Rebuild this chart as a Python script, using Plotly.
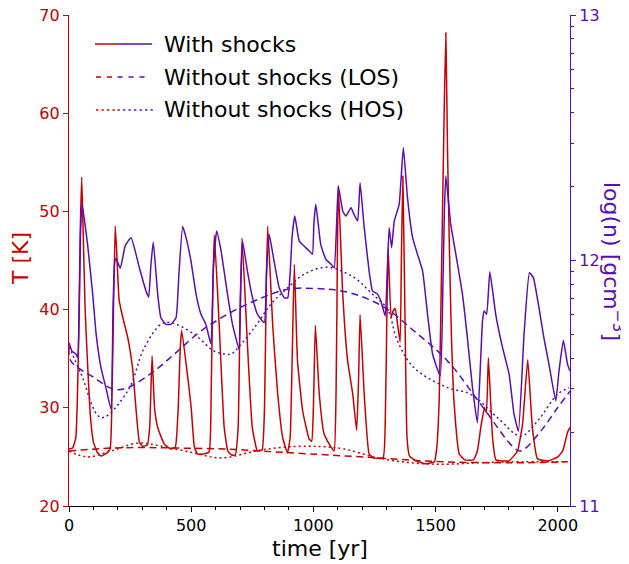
import plotly.graph_objects as go
import math

RED = "#C80000"
PURPLE = "#5A0DB4"
FONT = "DejaVu Sans"

# With shocks: temperature
t_T = [0, 15, 28, 38, 46, 52, 58, 66, 75, 88, 100, 115, 131, 150, 168, 175, 182, 189, 195, 205, 220, 240, 260, 288, 301,
       320, 330, 340, 350, 363, 390, 417, 435, 447, 455, 461, 486, 500, 513, 526, 550, 573, 582, 590, 595, 615, 635, 650,
       665, 680, 692, 700, 708, 730, 750, 771, 790, 800, 807, 813, 834, 854, 874, 894, 905, 914, 922, 935, 956, 983, 993,
       1000, 1008, 1024, 1044, 1072, 1085, 1093, 1098, 1102, 1120, 1140, 1161, 1177, 1185, 1191, 1208, 1228, 1245, 1285,
       1295, 1301, 1306, 1318, 1327, 1335, 1346, 1355, 1360, 1366, 1375, 1383, 1393, 1420, 1460, 1495, 1505, 1515, 1525,
       1535, 1542, 1549, 1563, 1576, 1597, 1620, 1655, 1671, 1685, 1700, 1708, 1716, 1733, 1747, 1800, 1835, 1856, 1877,
       1896, 1917, 1960, 2000, 2020, 2040, 2050]
T_shock = [25.8, 25.9, 27, 35, 48, 53.5, 48, 40, 35, 29, 26.5, 25.5, 25.1, 25.3, 25.8, 30, 40, 48.5, 46, 41, 39.2, 37.2,
           34.1, 26.5, 26.1, 26.2, 28, 35.3, 30, 28, 26.3, 25.8, 26, 30, 36, 37.9, 33.1, 30, 26, 25.3, 25.3, 25.5, 32, 44,
           47.6, 38.2, 28, 25.6, 25.2, 25.2, 28, 40, 47.3, 36.5, 28, 25.6, 25.7, 30, 42, 48.5, 38.2, 31.4, 27, 25.4, 27,
           36, 44.6, 34.8, 29.7, 26.8, 26.6, 30, 38.4, 31.4, 27.3, 26, 25.6, 32, 45, 52.6, 41.6, 34.8, 31.4, 27.7, 33,
           39.5, 31.4, 25.3, 24.9, 24.9, 30, 40, 46.2, 39.2, 39.9, 40.1, 38.2, 36.7, 45, 53.6, 38.9, 27, 25.1, 24.6,
           24.3, 24.5, 26, 31, 45, 60, 68.2, 55.9, 38.9, 30.4, 25.3, 24.7, 24.7, 25.6, 28, 30, 29.5, 35.1, 27, 24.7,
           24.6, 25.6, 28.4, 34.9, 28, 24.8, 24.6, 25, 25.6, 27.5, 28]

# With shocks: log density
t_n = [0, 12, 29, 36, 42, 47, 53, 76, 97, 111, 131, 151, 172, 180, 186, 192, 210, 230, 254, 288, 315, 326, 335, 345,
       363, 376, 397, 417, 438, 450, 465, 479, 499, 520, 540, 560, 581, 590, 604, 622, 649, 669, 696, 703, 710, 730,
       751, 771, 799, 808, 819, 839, 860, 881, 895, 905, 913, 924, 942, 962, 983, 996, 1002, 1010, 1030, 1051, 1072,
       1085, 1095, 1102, 1120, 1133, 1154, 1165, 1181, 1191, 1208, 1228, 1242, 1263, 1276, 1294, 1302, 1310, 1320,
       1331, 1351, 1368, 1385, 1406, 1426, 1447, 1467, 1488, 1519, 1530, 1536, 1542, 1562, 1583, 1610, 1630, 1651,
       1671, 1692, 1699, 1709, 1722, 1746, 1774, 1801, 1821, 1839, 1862, 1884, 1900, 1923, 1943, 1964, 1992, 2005,
       2023, 2040, 2050]
logn_shock = [11.665, 11.631, 11.618, 11.604, 11.8, 12.1, 12.231, 12.066, 11.862, 11.70, 11.563, 11.482, 11.394, 11.8,
              11.98, 12.009, 11.968, 12.06, 12.093, 11.97, 11.876, 11.851, 11.98, 12.075, 11.862, 11.767, 11.740,
              11.740, 11.767, 11.95, 12.138, 12.093, 11.998, 11.862, 11.781, 11.74, 11.659, 11.95, 12.12, 12.04,
              11.86, 11.74, 11.638, 11.9, 12.079, 11.957, 11.848, 11.781, 11.747, 11.95, 12.107, 11.998, 11.889,
              11.848, 11.848, 11.95, 12.1, 12.181, 12.079, 12.059, 12.039, 12.025, 12.15, 12.229, 12.066, 12.005,
              11.985, 11.97, 12.15, 12.303, 12.202, 12.181, 12.215, 12.19, 12.161, 12.317, 12.134, 11.957, 11.876,
              11.862, 11.835, 11.774, 11.95, 12.134, 12.052, 12.161, 12.229, 12.46, 12.256, 12.093, 12.025, 11.957,
              11.781, 11.618, 11.53, 11.9, 12.2, 12.344, 12.147, 12.025, 11.862, 11.686, 11.482, 11.339, 11.754,
              11.794, 11.781, 11.954, 11.781, 11.645, 11.536, 11.374, 11.305, 11.7, 11.95, 11.93, 11.808, 11.686,
              11.577, 11.428, 11.55, 11.675, 11.577, 11.55]

# Without shocks (LOS)
t_los_n = [0, 8, 102, 185, 240, 349, 445, 540, 649, 758, 895, 1030, 1099, 1194, 1303, 1412, 1549, 1685, 1821, 1849,
           1931, 1999, 2050]
logn_los = [11.645, 11.59, 11.523, 11.475, 11.482, 11.55, 11.631, 11.713, 11.781, 11.835, 11.883, 11.885, 11.879,
            11.855, 11.801, 11.713, 11.591, 11.414, 11.237, 11.224, 11.306, 11.40, 11.468]
t_los_T = [0, 170, 310, 445, 650, 785, 990, 1263, 1535, 1808, 2040]
T_los = [25.6, 25.9, 25.95, 25.9, 25.8, 25.6, 25.3, 24.9, 24.5, 24.4, 24.5]

# Without shocks (HOS)
t_hos_n = [0, 50, 131, 240, 308, 376, 417, 512, 594, 649, 663, 758, 826, 895, 962, 1058, 1167, 1235, 1303, 1344,
           1412, 1549, 1644, 1753, 1849, 1917, 1999, 2046]
logn_hos = [11.65, 11.537, 11.36, 11.468, 11.645, 11.74, 11.747, 11.70, 11.631, 11.618, 11.618, 11.726, 11.822,
            11.889, 11.944, 11.973, 11.93, 11.869, 11.801, 11.672, 11.563, 11.482, 11.455, 11.36, 11.285, 11.346,
            11.455, 11.482]
t_hos_T = [0, 76, 172, 281, 376, 512, 622, 785, 921, 1030, 1126, 1263, 1399, 1535, 1672, 1808, 2040]
T_hos = [25.6, 25.0, 25.6, 26.4, 26.1, 25.4, 24.9, 25.7, 26.05, 26.05, 25.8, 24.9, 24.4, 24.25, 24.4, 24.5, 24.5]

x_ticks = [0, 500, 1000, 1500, 2000]
T_ticks = [20, 30, 40, 50, 60, 70]
n_ticks = [11, 12, 13]
n_tick_text = ["11", "12", "13"]
legend_labels = ["With shocks", "Without shocks (LOS)", "Without shocks (HOS)"]

DASH = "7px,4.5px"
DOT = "2px,3px"

fig = go.Figure()
W = 1.5
fig.add_trace(go.Scatter(x=t_T, y=T_shock, mode="lines", line=dict(color=RED, width=W, shape="spline", smoothing=0.4), yaxis="y", showlegend=False))
fig.add_trace(go.Scatter(x=t_n, y=logn_shock, mode="lines", line=dict(color=PURPLE, width=W, shape="spline", smoothing=0.4), yaxis="y2", showlegend=False))
fig.add_trace(go.Scatter(x=t_los_T, y=T_los, mode="lines", line=dict(color=RED, width=W, dash=DASH, shape="spline"), yaxis="y", showlegend=False))
fig.add_trace(go.Scatter(x=t_los_n, y=logn_los, mode="lines", line=dict(color=PURPLE, width=W, dash=DASH, shape="spline"), yaxis="y2", showlegend=False))
fig.add_trace(go.Scatter(x=t_hos_T, y=T_hos, mode="lines", line=dict(color=RED, width=W, dash=DOT, shape="spline"), yaxis="y", showlegend=False))
fig.add_trace(go.Scatter(x=t_hos_n, y=logn_hos, mode="lines", line=dict(color=PURPLE, width=W, dash=DOT, shape="spline"), yaxis="y2", showlegend=False))

# page offset of the figure div (body margin)
OFF = 7
# plot area in page pixels
L, R, TOP, BOT = 68, 569, 14, 505
def px(x):
    return (x - L) / (R - L)
def py(y):
    return (BOT - y) / (BOT - TOP)

shapes = []
annotations = []
# legend handles: (red segment, purple segment) in page pixels
handles = [((94, 116), (116, 151), "solid"),
           ((95, 111), (116.5, 145), "5px,6px"),
           ((95, 114), (116.5, 153), "2.3px,3.2px")]
rows = [43, 76, 109]
for lab, (rseg, pseg, d), yy in zip(legend_labels, handles, rows):
    shapes.append(dict(type="line", xref="paper", yref="paper", x0=px(rseg[0]), x1=px(rseg[1]), y0=py(yy), y1=py(yy),
                       line=dict(color=RED, width=W, dash=d)))
    shapes.append(dict(type="line", xref="paper", yref="paper", x0=px(pseg[0]), x1=px(pseg[1]), y0=py(yy), y1=py(yy),
                       line=dict(color=PURPLE, width=W, dash=d)))
    annotations.append(dict(text=lab, xref="paper", yref="paper", x=px(161), y=py(yy), xanchor="left",
                            yanchor="middle", showarrow=False, font=dict(family=FONT, size=22, color="black")))

annotations.append(dict(text="T [K]", xref="paper", yref="paper", x=px(19), y=py(258), textangle=-90,
                        xanchor="center", yanchor="middle",
                        showarrow=False, font=dict(family=FONT, size=22, color=RED)))
annotations.append(dict(text="log(n) [gcm<sup>−3</sup>]", xref="paper", yref="paper", x=px(612), y=py(260),
                        xanchor="center", yanchor="middle",
                        textangle=90, showarrow=False, font=dict(family=FONT, size=22, color=PURPLE)))
annotations.append(dict(text="time [yr]", xref="paper", yref="paper", x=px(319), y=py(547),
                        xanchor="center", yanchor="middle",
                        showarrow=False, font=dict(family=FONT, size=22, color="black")))

minor_n = [d + math.log10(k) for d in (11, 12) for k in range(2, 10)]

fig.update_layout(
    width=629, height=564, autosize=False,
    margin=dict(l=L - OFF, r=629 + OFF - R, t=TOP - OFF, b=564 + OFF - BOT),
    paper_bgcolor="white", plot_bgcolor="white",
    font=dict(family=FONT),
    showlegend=False,
    shapes=shapes, annotations=annotations,
    xaxis=dict(range=[0, 2050], showgrid=False, zeroline=False, showline=True, linecolor="black", linewidth=1,
               automargin=False, ticklabeloverflow="allow",
               ticks="outside", ticklen=5, tickcolor="black", tickvals=x_ticks,
               tickfont=dict(family=FONT, size=16, color="black"),
               minor=dict(dtick=100, tick0=0, ticks="outside", ticklen=3, tickcolor="black")),
    yaxis=dict(range=[20, 70], showgrid=False, zeroline=False, showline=True, linecolor=RED, linewidth=1.3,
               automargin=False, ticklabeloverflow="allow",
               ticks="outside", ticklen=5, tickcolor=RED, tickvals=T_ticks,
               tickfont=dict(family=FONT, size=16, color=RED)),
    yaxis2=dict(range=[11, 13], overlaying="y", side="right", showgrid=False, zeroline=False, showline=True,
                automargin=False, ticklabeloverflow="allow",
                linecolor=PURPLE, linewidth=1.3, ticks="outside", ticklen=5, tickcolor=PURPLE,
                tickvals=n_ticks, ticktext=n_tick_text,
                tickfont=dict(family=FONT, size=16, color=PURPLE),
                minor=dict(tickvals=minor_n, ticks="outside", ticklen=3, tickcolor=PURPLE)),
)

fig.write_html("out.html")
